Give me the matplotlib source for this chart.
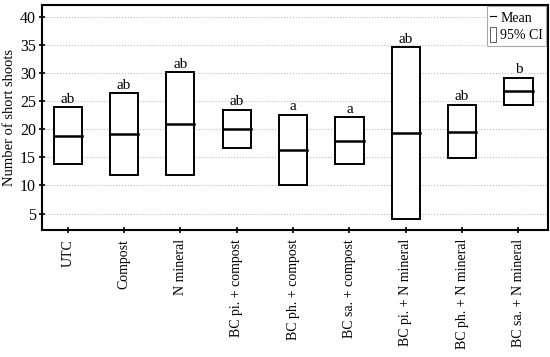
import matplotlib
matplotlib.use("Agg")
import matplotlib.pyplot as plt
from matplotlib.patches import Rectangle
from matplotlib.lines import Line2D

categories = ["UTC", "Compost", "N mineral", "BC pi. + compost", "BC ph. + compost",
              "BC sa. + compost", "BC pi. + N mineral", "BC ph. + N mineral", "BC sa. + N mineral"]
means = [18.8, 19.1, 21.0, 20.0, 16.3, 17.9, 19.3, 19.5, 26.8]
ci_low = [13.8, 11.8, 11.9, 16.6, 10.1, 13.85, 4.1, 14.8, 24.35]
ci_high = [23.9, 26.4, 30.1, 23.4, 22.6, 22.1, 34.55, 24.3, 29.1]
letters = ["ab", "ab", "ab", "ab", "a", "a", "ab", "ab", "b"]
yticks = [5, 10, 15, 20, 25, 30, 35, 40]

plt.rcParams['font.family'] = ['Liberation Serif', 'DejaVu Serif']

fig = plt.figure(figsize=(5.5, 3.57), dpi=100)
ax = fig.add_axes([0.077, 0.356, 0.919, 0.630])

w = 0.5
for i, (m, lo, hi, lt) in enumerate(zip(means, ci_low, ci_high, letters)):
    ax.add_patch(Rectangle((i - w / 2, lo), w, hi - lo, facecolor='white',
                           edgecolor='black', linewidth=1.4, zorder=3))
    ax.plot([i - w / 2, i + w / 2], [m, m], color='black', linewidth=1.8, zorder=4)
    ax.text(i, hi + 0.3, lt, ha='center', va='bottom', fontsize=11, zorder=5)

ax.set_xlim(-0.45, 8.52)
ax.set_ylim(2.1, 42.1)
ax.set_xticks(range(len(categories)))
ax.set_xticklabels(categories, rotation=90, fontsize=10)
ax.set_yticks(yticks)
ax.set_yticklabels([str(v) for v in yticks], fontsize=11.5)
ax.set_ylabel("Number of short shoots", fontsize=10.5, labelpad=3)
ax.tick_params(axis='both', direction='inout', length=5, width=1.2, pad=2)
ax.tick_params(axis='x', pad=4)
ax.yaxis.grid(True, linestyle=':', color='#bbbbbb', linewidth=0.8)
ax.set_axisbelow(True)
for s in ax.spines.values():
    s.set_linewidth(1.5)

handles = [Line2D([0], [0], color='black', linewidth=0.8),
           Rectangle((0, 0), 1, 1, facecolor='white', edgecolor='#444444', linewidth=0.6)]
leg = ax.legend(handles, ["Mean", "95% CI"], loc='upper right', fontsize=10,
                handlelength=0.4, handleheight=1.3, handletextpad=0.3,
                borderaxespad=0.1, borderpad=0.25, labelspacing=0.15,
                fancybox=False, framealpha=1, edgecolor='#aaaaaa')
leg.get_frame().set_linewidth(0.8)

fig.savefig("out.png", dpi=100)
